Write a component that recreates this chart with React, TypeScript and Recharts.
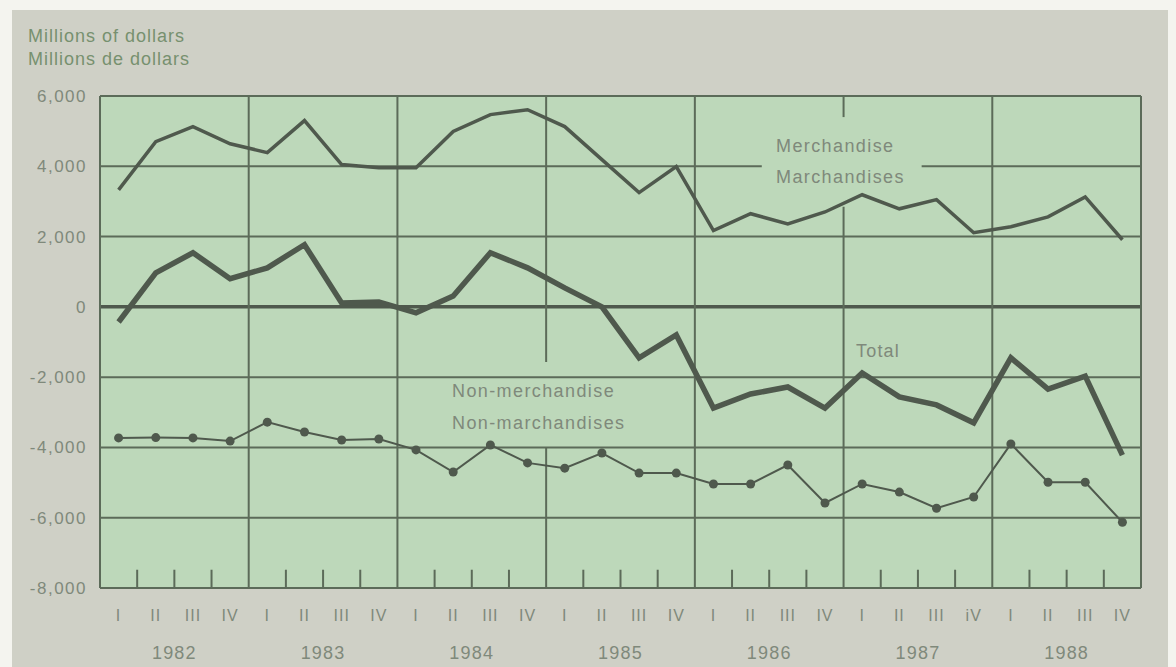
import {
  LineChart,
  Line,
  XAxis,
  YAxis,
  CartesianGrid,
  ReferenceLine,
} from 'recharts';

// quarters 1982 I .. 1988 IV
const years = ['1982', '1983', '1984', '1985', '1986', '1987', '1988'];

const merchandise = [
  3330, 4700, 5130, 4640, 4390, 5300, 4050, 3960,
  3960, 4990, 5470, 5610, 5130, 4190, 3250, 3990,
  2170, 2650, 2360, 2700, 3190, 2790, 3050, 2110,
  2280, 2560, 3130, 1910,
];
const total = [
  -430, 970, 1540, 800, 1110, 1770, 110, 140,
  -170, 310, 1540, 1110, 540, 0, -1450, -800,
  -2880, -2480, -2280, -2880, -1880, -2560, -2790, -3300,
  -1450, -2340, -1970, -4220,
];
const nonMerchandise = [
  -3730, -3720, -3730, -3820, -3280, -3560, -3790, -3760,
  -4070, -4700, -3930, -4440, -4590, -4160, -4730, -4730,
  -5040, -5040, -4500, -5580, -5040, -5270, -5730, -5410,
  -3900, -4990, -4990, -6130,
];
const quarterLabels = ['I', 'II', 'III', 'IV', 'I', 'II', 'III', 'IV', 'I', 'II', 'III', 'IV', 'I', 'II', 'III', 'IV', 'I', 'II', 'III', 'IV', 'I', 'II', 'III', 'iV', 'I', 'II', 'III', 'IV'];
const yTicks = [6000, 4000, 2000, 0, -2000, -4000, -6000, -8000];

const data = merchandise.map((m, i) => ({
  x: i + 0.5,
  merchandise: m,
  total: total[i],
  nonMerchandise: nonMerchandise[i],
}));

const quarterTicks = data.map((d) => d.x);
const yearTicks = years.map((_, i) => i * 4 + 2);
const yearBounds = years.map((_, i) => i * 4).concat(28);
const innerTicks = data.map((_, i) => i).filter((i) => i % 4 !== 0);

const INK = '#4f594d';
const GRID = '#5c6b59';
const TEXT = '#7f897b';
const FONT = '"Liberation Sans", Arial, sans-serif';

const fmt = (v: number) => (v === 0 ? '0' : v.toLocaleString('en-US'));

export default function App() {
  return (
    <div style={{ position: 'absolute', left: 0, top: 0, width: 1176, height: 667, background: '#f4f4ef', fontFamily: FONT }}>
      <div style={{ position: 'absolute', left: 12, top: 10, width: 1156, height: 657, background: '#cfd0c6' }} />
      <div style={{ position: 'absolute', left: 28, top: 25, color: '#77906f', fontSize: 18, lineHeight: '23px', letterSpacing: 1 }}>
        <div>Millions of dollars</div>
        <div>Millions de dollars</div>
      </div>
      <div style={{ position: 'absolute', left: 0, top: 0 }}>
        <LineChart
          width={1176}
          height={667}
          data={data}
          margin={{ top: 96, right: 35, bottom: 0, left: 20 }}
        >
          <CartesianGrid horizontal={false} vertical={false} fill="#bdd8ba" fillOpacity={1} />
          <XAxis
            type="number"
            dataKey="x"
            domain={[0, 28]}
            ticks={quarterTicks}
            tickFormatter={(v: number) => quarterLabels[Math.floor(v)]}
            interval={0}
            axisLine={false}
            tickLine={false}
            tickSize={0}
            tickMargin={22}
            height={44}
            tick={{ fill: TEXT, fontSize: 16, fontFamily: FONT, letterSpacing: 1 }}
          />
          <XAxis
            xAxisId="year"
            type="number"
            dataKey="x"
            domain={[0, 28]}
            ticks={yearTicks}
            tickFormatter={(v: number) => years[Math.floor(v / 4)]}
            interval={0}
            axisLine={false}
            tickLine={false}
            tickSize={0}
            tickMargin={14}
            height={35}
            tick={{ fill: TEXT, fontSize: 18, fontFamily: FONT, letterSpacing: 1.2 }}
          />
          <YAxis
            domain={[-8000, 6000]}
            ticks={yTicks}
            interval={0}
            tickFormatter={fmt}
            axisLine={false}
            tickLine={false}
            tickSize={0}
            tickMargin={13}
            width={80}
            tick={{ fill: TEXT, fontSize: 17, fontFamily: FONT, letterSpacing: 1.5 }}
          />

          {/* horizontal grid */}
          {yTicks
            .filter((v) => v !== 4000 && v !== 0)
            .map((v) => (
              <ReferenceLine key={'h' + v} y={v} stroke={GRID} strokeWidth={2} />
            ))}
          <ReferenceLine segment={[{ x: 0, y: 4000 }, { x: 17.8, y: 4000 }]} stroke={GRID} strokeWidth={2} />
          <ReferenceLine segment={[{ x: 22.1, y: 4000 }, { x: 28, y: 4000 }]} stroke={GRID} strokeWidth={2} />
          <ReferenceLine y={0} stroke={INK} strokeWidth={3.5} />

          {/* vertical year lines */}
          {yearBounds
            .filter((v) => v !== 12 && v !== 20)
            .map((v) => (
              <ReferenceLine key={'v' + v} x={v} stroke={GRID} strokeWidth={2} />
            ))}
          <ReferenceLine segment={[{ x: 12, y: 6000 }, { x: 12, y: -1570 }]} stroke={GRID} strokeWidth={2} />
          <ReferenceLine segment={[{ x: 12, y: -4000 }, { x: 12, y: -8000 }]} stroke={GRID} strokeWidth={2} />
          <ReferenceLine segment={[{ x: 20, y: 6000 }, { x: 20, y: 5400 }]} stroke={GRID} strokeWidth={2} />
          <ReferenceLine segment={[{ x: 20, y: 2850 }, { x: 20, y: -8000 }]} stroke={GRID} strokeWidth={2} />

          {/* quarter ticks */}
          {innerTicks.map((v) => (
            <ReferenceLine key={'t' + v} segment={[{ x: v, y: -8000 }, { x: v, y: -7480 }]} stroke={GRID} strokeWidth={2} />
          ))}

          <Line dataKey="merchandise" type="linear" stroke={INK} strokeWidth={3.5} dot={false} isAnimationActive={false} />
          <Line dataKey="total" type="linear" stroke={INK} strokeWidth={5.5} dot={false} isAnimationActive={false} />
          <Line
            dataKey="nonMerchandise"
            type="linear"
            stroke={INK}
            strokeWidth={2}
            dot={{ r: 4.5, fill: INK, stroke: 'none' }}
            isAnimationActive={false}
          />
        </LineChart>
      </div>
      <div style={{ position: 'absolute', left: 776, top: 131, color: TEXT, fontSize: 18, lineHeight: '31px', letterSpacing: 1.4 }}>
        <div>Merchandise</div>
        <div>Marchandises</div>
      </div>
      <div style={{ position: 'absolute', left: 452, top: 375, color: TEXT, fontSize: 18, lineHeight: '32px', letterSpacing: 1.4 }}>
        <div>Non-merchandise</div>
        <div>Non-marchandises</div>
      </div>
      <div style={{ position: 'absolute', left: 856, top: 341, color: TEXT, fontSize: 18, letterSpacing: 1.2 }}>Total</div>
    </div>
  );
}
